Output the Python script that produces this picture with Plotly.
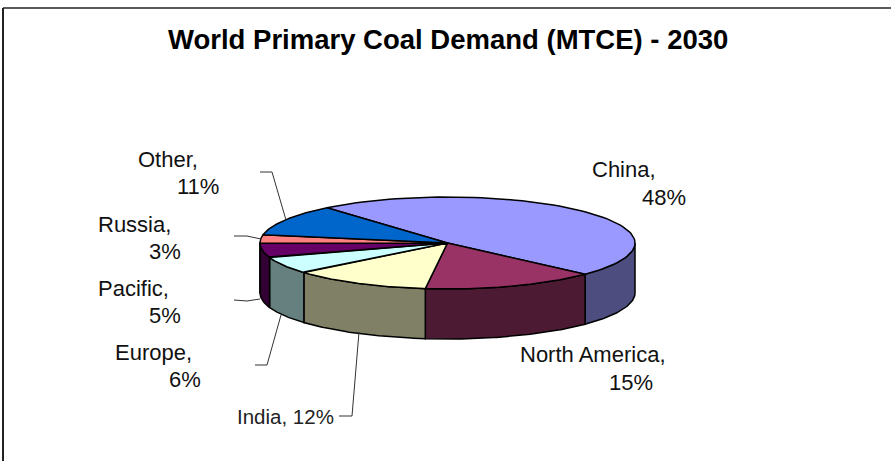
import numpy as np
import plotly.graph_objects as go

# --- data -------------------------------------------------------------
TITLE = "World Primary Coal Demand (MTCE) - 2030"
categories = ["China", "North America", "India", "Europe", "Pacific", "Russia", "Other"]
shares = [48, 15, 12, 6, 5, 3, 11]

# --- styles -----------------------------------------------------------
top_colors = ["#9999FF", "#993366", "#FFFFCC", "#CCFFFF", "#660066", "#FF8080", "#0066CC"]
side_colors = ["#4D4D80", "#4D1A33", "#808066", "#668080", "#330033", "#804040", "#003366"]

# --- pie geometry (pixel-based axes) ----------------------------------
CX, CY, RX, RY, DEPTH = 447.5, 243.0, 187.5, 46.0, 50.0
START_DEG = -40.0

# label anchors: left x / centre y of first line, then second line (None = single line)
label_pos = {
    "China": ((589.5, 169), (640, 197)),
    "North America": ((517.5, 354), (607, 382)),
    "India": ((235, 416), None),
    "Europe": ((112.5, 352), (167, 379)),
    "Pacific": ((95.5, 288), (147, 315)),
    "Russia": ((95.5, 224), (147, 251)),
    "Other": ((135.5, 159), (175, 186)),
}
leaders = {
    "India": [(339, 416), (352, 416), (359, 332)],
    "Europe": [(255, 365), (267, 365), (281, 315)],
    "Pacific": [(234, 300), (247, 301), (260, 299)],
    "Russia": [(234, 236), (247, 236), (261, 239)],
    "Other": [(260, 172), (272, 172), (286, 220)],
}


def rim(deg):
    a = np.radians(deg)
    return CX + RX * np.sin(a), CY - RY * np.cos(a)


fig = go.Figure()
edges = np.cumsum([0] + shares) * 3.6 + START_DEG
line = dict(color="black", width=1.5)

# side walls: only the front half (90..270 degrees clockwise from the top)
for i, col in enumerate(side_colors):
    a0, a1 = edges[i], edges[i + 1]
    lo, hi = max(a0, 90), min(a1, 270)
    if hi <= lo:
        continue
    t = np.linspace(lo, hi, 60)
    x, y = rim(t)
    fig.add_trace(go.Scatter(
        x=np.r_[x, x[::-1], x[0]], y=np.r_[y, y[::-1] + DEPTH, y[0]],
        mode="lines", fill="toself", fillcolor=col, line=line, hoverinfo="skip",
    ))

# top faces
for i, col in enumerate(top_colors):
    t = np.linspace(edges[i], edges[i + 1], 80)
    x, y = rim(t)
    fig.add_trace(go.Scatter(
        x=np.r_[CX, x, CX], y=np.r_[CY, y, CY],
        mode="lines", fill="toself", fillcolor=col, line=line, hoverinfo="skip",
    ))

# leader lines
for pts in leaders.values():
    fig.add_trace(go.Scatter(
        x=[p[0] for p in pts], y=[p[1] for p in pts], mode="lines",
        line=dict(color="#333333", width=1), hoverinfo="skip",
    ))

# frame (left and top only)
fig.add_shape(type="line", x0=3, x1=3, y0=8, y1=461, line=dict(color="#222222", width=2))
fig.add_shape(type="line", x0=3, x1=891, y0=8, y1=8, line=dict(color="#222222", width=1.5))

FONT = dict(family="Liberation Sans, Arial, sans-serif", size=22, color="#111111")
FONT_SINGLE = dict(family="Liberation Sans, Arial, sans-serif", size=20.5, color="#222222")
for name, val in zip(categories, shares):
    first, second = label_pos[name]
    if second is None:
        fig.add_annotation(x=first[0], y=first[1], text=f"{name}, {val}%", showarrow=False,
                           xanchor="left", yanchor="middle", font=FONT_SINGLE)
    else:
        fig.add_annotation(x=first[0], y=first[1], text=f"{name},", showarrow=False,
                           xanchor="left", yanchor="middle", font=FONT)
        fig.add_annotation(x=second[0], y=second[1], text=f"{val}%", showarrow=False,
                           xanchor="left", yanchor="middle", font=FONT)

fig.add_annotation(x=448, y=39, text=f"<b>{TITLE}</b>", showarrow=False, xanchor="center",
                   yanchor="middle",
                   font=dict(family="Liberation Sans, Arial, sans-serif", size=27.5, color="black"))

fig.update_layout(
    width=891, height=461, margin=dict(l=0, r=0, t=0, b=0),
    paper_bgcolor="white", plot_bgcolor="white", showlegend=False,
    xaxis=dict(range=[0, 891], visible=False, fixedrange=True),
    yaxis=dict(range=[461, 0], visible=False, fixedrange=True),
)
fig.write_html("out.html", config={"displayModeBar": False},
               post_script="document.body.style.margin='0';document.body.style.overflow='hidden';")
